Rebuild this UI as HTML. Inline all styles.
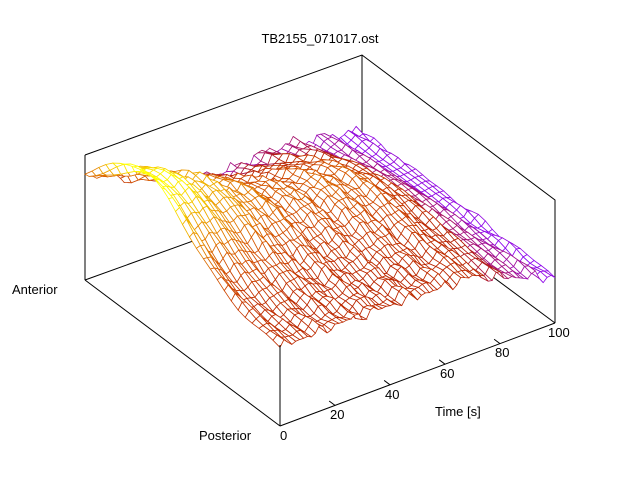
<!DOCTYPE html>
<html><head><meta charset="utf-8"><style>
body{margin:0;background:#fff;}
svg{display:block;font-family:"Liberation Sans",sans-serif;}
</style></head><body>
<svg id="s" width="640" height="480" viewBox="0 0 640 480" xmlns="http://www.w3.org/2000/svg">
<rect width="640" height="480" fill="#fff"/>
<g stroke="#000" stroke-width="1" fill="none">
<polyline points="85,155 362,55 555,200 555,323"/>
<line x1="85" y1="155" x2="85" y2="280"/>
<line x1="362" y1="55" x2="362" y2="180"/>
<line x1="85" y1="280" x2="362" y2="180"/>
<line x1="362" y1="180" x2="555" y2="323"/>
</g>
<g id="mesh"></g>
<g stroke="#000" stroke-width="1" fill="none">
<line x1="85" y1="280" x2="280" y2="426"/>
<line x1="280" y1="426" x2="555" y2="323"/>
<line x1="280" y1="426" x2="280" y2="345"/>
</g>
<g id="ticks" stroke="#000" stroke-width="1"></g>
<g font-size="13" fill="#000">
<text x="320" y="43" text-anchor="middle">TB2155_071017.ost</text>
<text x="12" y="294">Anterior</text>
<text x="199" y="440">Posterior</text>
<text x="435" y="416">Time [s]</text>
<text x="280" y="440">0</text>
<text x="330" y="419">20</text>
<text x="385" y="399">40</text>
<text x="440" y="378">60</text>
<text x="495" y="357">80</text>
<text x="548" y="337">100</text>
</g>
</svg>
<script>
(function(){
var P0=[280,426], TV=[275,-103], YV=[-195,-146];
function base(t,y){return [P0[0]+t*TV[0]+y*YV[0], P0[1]+t*TV[1]+y*YV[1]];}
function H(t,y){
  var front = t<0.7 ? 78 : 78-33*((t-0.7)/0.3);
  var back = 76-31*Math.min(t/0.5,1) + (t>0.5? 10*Math.sin(Math.PI*(t-0.5)/0.5):0);
  var b = front+(back-front)*y;
  var A = 74*Math.pow(1-t,1.2)+ (t>0.4&&t<0.85? 16*Math.sin(Math.PI*(t-0.4)/0.45):0);
  var c = 0.70 - 0.18*t;
  var hump = A*Math.exp(-Math.pow((y-c)/0.32,2));
  var rip = 4*Math.sin(2*Math.PI*t*9+3*y)*(0.5+0.5*y);
  var n = 1.8*Math.sin(137*t+23*y)+1.5*Math.sin(211*t*y+7*t)+ (1-y)*(1-y)*3*Math.sin(97*t);
  return b+hump+rip+n;
}
function col(h){
  var x=0.3+(h-45)*0.0072; x=Math.max(0.05,Math.min(1,x));
  var r=Math.sqrt(x), g=x*x*x, b=Math.max(0,Math.sin(2*Math.PI*x));
  return "rgb("+Math.round(r*255)+","+Math.round(g*255)+","+Math.round(b*255)+")";
}
var NT=70, NY=28, pts=[], hs=[];
for(var i=0;i<=NT;i++){pts[i]=[];hs[i]=[];for(var j=0;j<=NY;j++){
  var t=i/NT,y=j/NY,b=base(t,y),h=H(t,y); hs[i][j]=h; pts[i][j]=[b[0],b[1]-h];}}
var quads=[];
for(var i=0;i<NT;i++)for(var j=0;j<NY;j++)quads.push([i,j]);
quads.sort(function(a,b){return (b[0]/NT+b[1]/NY*1.05)-(a[0]/NT+a[1]/NY*1.05);});
var out="";
quads.forEach(function(q){
  var i=q[0],j=q[1],a=pts[i][j],b=pts[i+1][j],c=pts[i+1][j+1],d=pts[i][j+1];
  var h=(hs[i][j]+hs[i+1][j]+hs[i+1][j+1]+hs[i][j+1])/4;
  out+='<polygon points="'+a[0].toFixed(1)+','+a[1].toFixed(1)+' '+b[0].toFixed(1)+','+b[1].toFixed(1)+' '+c[0].toFixed(1)+','+c[1].toFixed(1)+' '+d[0].toFixed(1)+','+d[1].toFixed(1)+'" fill="#fff" stroke="'+col(h)+'" stroke-width="0.8"/>';
});
document.getElementById("mesh").innerHTML=out;
var tk="";
for(var k=1;k<5;k++){var t=k/5,b=base(t,0),e=base(t,0.03);
  tk+='<line x1="'+b[0]+'" y1="'+b[1]+'" x2="'+e[0]+'" y2="'+e[1]+'"/>';}
document.getElementById("ticks").innerHTML=tk;
})();
</script>
</body></html>
